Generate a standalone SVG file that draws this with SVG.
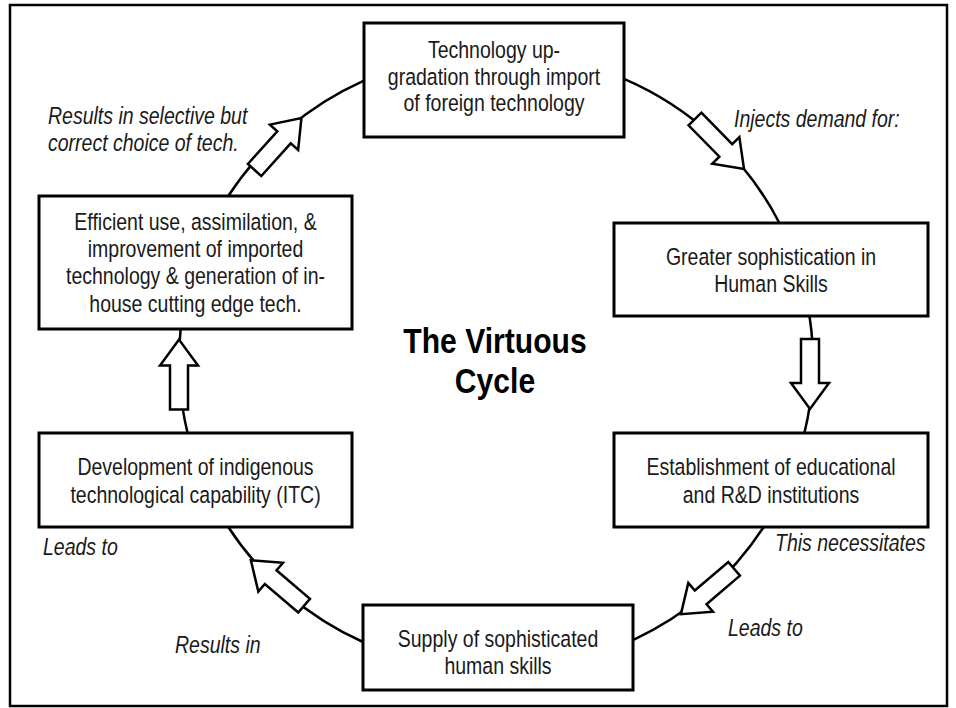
<svg xmlns="http://www.w3.org/2000/svg" width="956" height="708" viewBox="0 0 956 708">
<style>
.frame{fill:none;stroke:#000;stroke-width:2.5}
.box{fill:#fff;stroke:#000;stroke-width:3}
.t{font-family:'Liberation Sans',Arial,sans-serif;font-size:23.5px;fill:#1a1a1a;text-anchor:middle}
.lbl{font-family:'Liberation Sans',Arial,sans-serif;font-size:23.5px;font-style:italic;fill:#1a1a1a}
.title{font-family:'Liberation Sans',Arial,sans-serif;font-size:35px;font-weight:bold;fill:#000;text-anchor:middle}
.arc{fill:none;stroke:#000;stroke-width:2.5}
.arw{fill:#fff;stroke:#000;stroke-width:2.5;stroke-linejoin:miter}
</style>
<defs>
<path id="blk" d="M-35,-9 L9,-9 L9,-19 L35,0 L9,19 L9,9 L-35,9 Z"/>
</defs>
<rect class="frame" x="10" y="5" width="937" height="701"/>
<g id="connectors">
<path class="arc" d="M624,78.8 A317,309 0 0 1 779.4,223"/>
<path class="arc" d="M809.5,316 A317,309 0 0 1 804.4,433"/>
<path class="arc" d="M763.7,527 A317,309 0 0 1 633,640.1"/>
<path class="arc" d="M363,642 A317,309 0 0 1 228.3,527"/>
<path class="arc" d="M187.6,433 A317,309 0 0 1 180.7,329"/>
<path class="arc" d="M228.3,196 A317,309 0 0 1 364,80.6"/>
<use href="#blk" class="arw" transform="translate(719.5,144) rotate(45.5)"/>
<use href="#blk" class="arw" transform="translate(810,374) rotate(90)"/>
<use href="#blk" class="arw" transform="translate(707.5,591.5) rotate(139.5)"/>
<use href="#blk" class="arw" transform="translate(277.5,583) rotate(-139.5)"/>
<use href="#blk" class="arw" transform="translate(179,374.5) rotate(-90)"/>
<use href="#blk" class="arw" transform="translate(278,144) rotate(-48)"/>
</g>
<g id="labels">
<text class="lbl" transform="translate(48,124) scale(0.83,1)">Results in selective but</text>
<text class="lbl" transform="translate(48,151) scale(0.83,1)">correct choice of tech.</text>
<text class="lbl" transform="translate(734,127) scale(0.83,1)">Injects demand for:</text>
<text class="lbl" transform="translate(775,551) scale(0.83,1)">This necessitates</text>
<text class="lbl" transform="translate(728,636) scale(0.83,1)">Leads to</text>
<text class="lbl" transform="translate(43,555) scale(0.83,1)">Leads to</text>
<text class="lbl" transform="translate(175,653) scale(0.83,1)">Results in</text>
</g>
<g id="title">
<text class="title" transform="translate(495,353) scale(0.86,1)">The Virtuous</text>
<text class="title" transform="translate(495,393) scale(0.86,1)">Cycle</text>
</g>
<g id="node-import">
<rect class="box" x="364" y="23" width="260" height="114"/>
<text class="t" transform="translate(494,58) scale(0.83,1)">Technology up-</text>
<text class="t" transform="translate(494,85) scale(0.83,1)">gradation through import</text>
<text class="t" transform="translate(494,111) scale(0.83,1)">of foreign technology</text>
</g>
<g id="node-skills">
<rect class="box" x="614" y="223" width="314" height="93"/>
<text class="t" transform="translate(771,265) scale(0.83,1)">Greater sophistication in</text>
<text class="t" transform="translate(771,292) scale(0.83,1)">Human Skills</text>
</g>
<g id="node-institutions">
<rect class="box" x="614" y="433" width="314" height="94"/>
<text class="t" transform="translate(771,475) scale(0.83,1)">Establishment of educational</text>
<text class="t" transform="translate(771,503) scale(0.83,1)">and R&amp;D institutions</text>
</g>
<g id="node-supply">
<rect class="box" x="363" y="605" width="270" height="85"/>
<text class="t" transform="translate(498,647) scale(0.83,1)">Supply of sophisticated</text>
<text class="t" transform="translate(498,674) scale(0.83,1)">human skills</text>
</g>
<g id="node-itc">
<rect class="box" x="39" y="433" width="313" height="94"/>
<text class="t" transform="translate(195.5,475) scale(0.83,1)">Development of indigenous</text>
<text class="t" transform="translate(195.5,503) scale(0.83,1)">technological capability (ITC)</text>
</g>
<g id="node-efficient">
<rect class="box" x="39" y="196" width="313" height="133"/>
<text class="t" transform="translate(195.5,230) scale(0.83,1)">Efficient use, assimilation, &amp;</text>
<text class="t" transform="translate(195.5,257) scale(0.83,1)">improvement of imported</text>
<text class="t" transform="translate(195.5,284) scale(0.83,1)">technology &amp; generation of in-</text>
<text class="t" transform="translate(195.5,312) scale(0.83,1)">house cutting edge tech.</text>
</g>
</svg>
